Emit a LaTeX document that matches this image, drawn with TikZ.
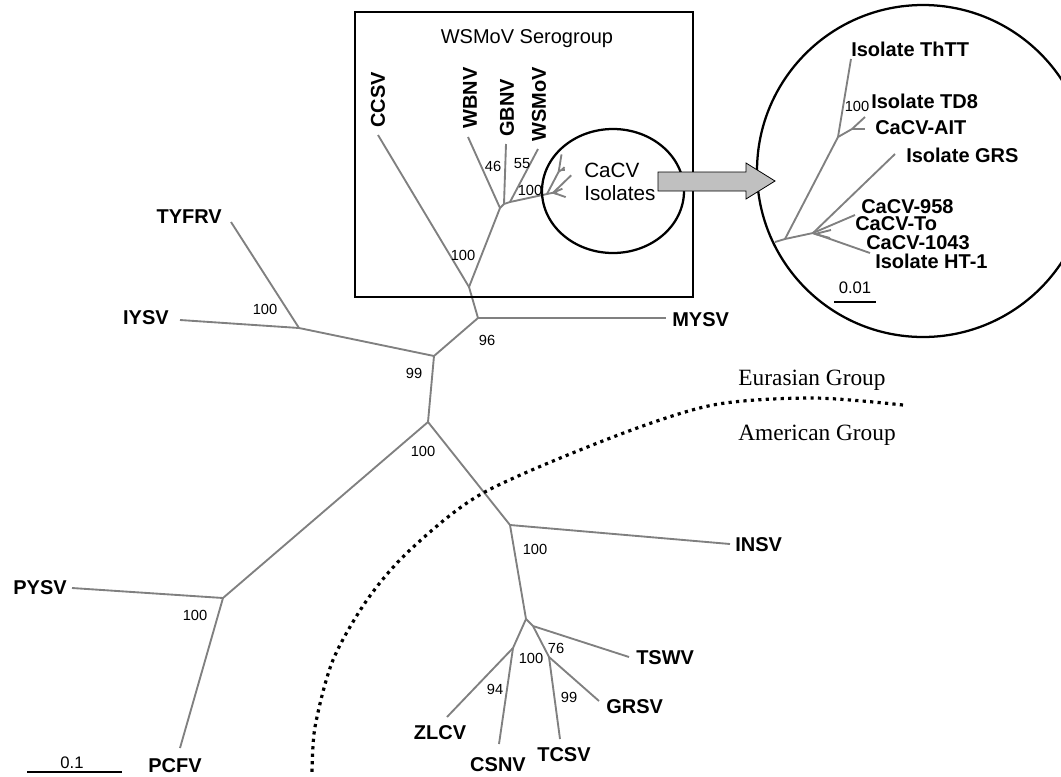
\documentclass[tikz,border=0pt]{standalone}
\usepackage{fontspec}
\setmainfont{Liberation Sans}
\newfontfamily\grpfont{Liberation Serif}
\usetikzlibrary{shapes.geometric}
\definecolor{treegray}{RGB}{128,128,128}
\definecolor{arrowgray}{RGB}{192,192,192}
\tikzset{
  branch/.style={draw=treegray, line width=1.4pt},
  taxon/.style={inner sep=0pt, font=\fontsize{15}{18}\selectfont\bfseries},
  boot/.style={inner sep=0pt, font=\fontsize{11}{13}\selectfont},
  scalelbl/.style={inner sep=0pt, font=\fontsize{12.5}{14}\selectfont},
  grouplbl/.style={inner sep=0pt, font=\fontsize{17.5}{20}\grpfont\selectfont},
  frame/.style={draw, line width=1.7pt, inner sep=0pt},
}
\begin{document}
\begin{tikzpicture}[x=0.75pt, y=-0.75pt]
\useasboundingbox (0,0) rectangle (1061,776);

% main tree
\coordinate (nroot) at (428,422);
\coordinate (n99) at (434,356);
\coordinate (n96) at (478,318);
\coordinate (nbox) at (469,287);
\coordinate (lmysv) at (666,318);
\coordinate (ntyf) at (299,328);
\coordinate (ltyfrv) at (231,222);
\coordinate (liysv) at (180,320);
\coordinate (nw1) at (500,208);
\coordinate (nw2) at (504,204);
\coordinate (nw3) at (510,202);
\coordinate (lccsv) at (378,135);
\coordinate (lwbnv) at (468,137);
\coordinate (lgbnv) at (506,144);
\coordinate (lwsmov) at (538,149);
\coordinate (np) at (223,598);
\coordinate (lpysv) at (72,588);
\coordinate (lpcfv) at (180,748);
\coordinate (ni) at (510,525);
\coordinate (linsv) at (730,544);
\coordinate (nt) at (526,619);
\coordinate (nzc) at (513,648);
\coordinate (lzlcv) at (447,717);
\coordinate (lcsnv) at (499,744);
\coordinate (n76) at (533,626);
\coordinate (ltswv) at (629,657);
\coordinate (ngt) at (549,657);
\coordinate (ltcsv) at (560,739);
\coordinate (lgrsv) at (599,701);

\draw[branch] (n99) -- (ntyf);
\draw[branch] (ntyf) -- (ltyfrv);
\draw[branch] (ntyf) -- (liysv);
\draw[branch] (n99) -- (n96);
\draw[branch] (n96) -- (lmysv);
\draw[branch] (n96) -- (nbox);
\draw[branch] (nbox) -- (lccsv);
\draw[branch] (nbox) -- (nw1);
\draw[branch] (nw1) -- (lwbnv);
\draw[branch] (nw1) -- (nw2);
\draw[branch] (nw2) -- (lgbnv);
\draw[branch] (nw2) -- (nw3);
\draw[branch] (nw3) -- (lwsmov);
\draw[branch] (n99) -- (nroot);
\draw[branch] (nroot) -- (np);
\draw[branch] (np) -- (lpysv);
\draw[branch] (np) -- (lpcfv);
\draw[branch] (nroot) -- (ni);
\draw[branch] (ni) -- (linsv);
\draw[branch] (ni) -- (nt);
\draw[branch] (nt) -- (nzc);
\draw[branch] (nzc) -- (lzlcv);
\draw[branch] (nzc) -- (lcsnv);
\draw[branch] (nt) -- (n76);
\draw[branch] (n76) -- (ltswv);
\draw[branch] (n76) -- (ngt);
\draw[branch] (ngt) -- (ltcsv);
\draw[branch] (ngt) -- (lgrsv);

% small CaCV tree
\coordinate (sr1) at (547,194);
\coordinate (sr2) at (558.7,171.6);
\coordinate (sr3) at (561.7,169.8);
\coordinate (sl1) at (561.5,154.4);
\coordinate (sl2) at (564.6,167.2);
\coordinate (sl3) at (564.6,169.8);
\coordinate (sr4) at (553.2,192.7);
\coordinate (sl4) at (571.2,175.3);
\coordinate (sl5) at (562.4,188.7);
\coordinate (sr5) at (553.6,192.9);
\coordinate (sl6) at (557.1,192);
\coordinate (sl7) at (556.9,193.8);
\coordinate (sl8) at (565.7,197.1);

\draw[branch] (nw3) -- (sr1);
\draw[branch] (sr1) -- (sr2);
\draw[branch] (sr2) -- (sl1);
\draw[branch] (sr2) -- (sr3);
\draw[branch] (sr3) -- (sl2);
\draw[branch] (sr3) -- (sl3);
\draw[branch] (sr1) -- (sr4);
\draw[branch] (sr4) -- (sl4);
\draw[branch] (sr4) -- (sl5);
\draw[branch] (sr4) -- (sr5);
\draw[branch] (sr5) -- (sl6);
\draw[branch] (sr5) -- (sl7);
\draw[branch] (sr4) -- (sl8);

% enlarged CaCV tree
\coordinate (r0) at (775,242);
\coordinate (r1) at (785,239);
\coordinate (r2) at (838,137);
\coordinate (r3) at (852,129);
\coordinate (l1) at (851,59);
\coordinate (l2) at (865,117);
\coordinate (l3) at (865,129);
\coordinate (r4) at (813,233);
\coordinate (l4) at (895,154);
\coordinate (l5) at (855,215);
\coordinate (r5) at (815,234);
\coordinate (l6) at (831,230);
\coordinate (l7) at (830,238);
\coordinate (l8) at (870,253);

\draw[branch] (r0) -- (r1);
\draw[branch] (r1) -- (r2);
\draw[branch] (r2) -- (l1);
\draw[branch] (r2) -- (r3);
\draw[branch] (r3) -- (l2);
\draw[branch] (r3) -- (l3);
\draw[branch] (r1) -- (r4);
\draw[branch] (r4) -- (l4);
\draw[branch] (r4) -- (l5);
\draw[branch] (r4) -- (r5);
\draw[branch] (r5) -- (l6);
\draw[branch] (r5) -- (l7);
\draw[branch] (r4) -- (l8);

% frames
\node[frame, minimum width=253.5pt, minimum height=213.75pt] (serobox) at (524,154.5) {};
\node[frame, ellipse, minimum width=106.5pt, minimum height=93pt] (cacvview) at (613,191) {};
\node[frame, circle, minimum size=249pt] (zoomview) at (923,171) {};
\draw[fill=arrowgray, line width=0.6pt] (658,172) -- (746,172) -- (746,163) -- (775,181)
  -- (746,199) -- (746,191) -- (658,191) -- cycle;

% group boundary
\draw[line width=2.4pt, dash pattern=on 2.4pt off 3.2pt] plot[smooth] coordinates
  {(903,405) (813,398) (713,405) (613,437) (483,493) (410,550) (367,600) (333,660) (315,727) (312,776)};
\node[grouplbl, anchor=base] (eurasian) at (812,385) {Eurasian Group};
\node[grouplbl, anchor=base] (american) at (817,440) {American Group};

% taxa
\node[taxon, anchor=east] (tyfrv) at (222,217) {TYFRV};
\node[taxon, anchor=east] (iysv) at (169,318) {IYSV};
\node[taxon, anchor=east] (pysv) at (67,588) {PYSV};
\node[taxon] (pcfv) at (175,766) {PCFV};
\node[taxon, anchor=west] (mysv) at (672,320) {MYSV};
\node[taxon, anchor=west] (insv) at (735,545) {INSV};
\node[taxon, anchor=west] (tswv) at (636,658) {TSWV};
\node[taxon, anchor=west] (grsv) at (606,707) {GRSV};
\node[taxon] (tcsv) at (564,755) {TCSV};
\node[taxon] (csnv) at (498,765) {CSNV};
\node[taxon] (zlcv) at (440,733) {ZLCV};
\node[taxon, rotate=90] (ccsv) at (378,100) {CCSV};
\node[taxon, rotate=90] (wbnv) at (470,98) {WBNV};
\node[taxon, rotate=90] (gbnv) at (507,108) {GBNV};
\node[taxon, rotate=90] (wsmov) at (539,104) {WSMoV};

\node[inner sep=0pt, anchor=base, font=\fontsize{15}{18}\selectfont] (serotitle) at (527,43) {WSMoV Serogroup};
\node[inner sep=0pt, anchor=north west, align=left, font=\fontsize{15.5}{17}\selectfont] (cacvtitle) at (584,163) {CaCV\\Isolates};

\node[taxon, anchor=west] (ththt) at (851,49) {Isolate ThTT};
\node[taxon, anchor=west] (td8) at (871,101) {Isolate TD8};
\node[taxon, anchor=west] (ait) at (875,128) {CaCV-AIT};
\node[taxon, anchor=west] (grs) at (906,155) {Isolate GRS};
\node[taxon, anchor=west] (c958) at (861,207) {CaCV-958};
\node[taxon, anchor=west] (cto) at (855,224) {CaCV-To};
\node[taxon, anchor=west] (c1043) at (866,243) {CaCV-1043};
\node[taxon, anchor=west] (ht1) at (875,261) {Isolate HT-1};

% bootstrap values
\node[boot] (b1) at (265,309) {100};
\node[boot] (b2) at (487,340) {96};
\node[boot] (b3) at (414,373) {99};
\node[boot] (b4) at (423,451) {100};
\node[boot] (b5) at (535,549) {100};
\node[boot] (b6) at (195,615) {100};
\node[boot] (b7) at (531,658) {100};
\node[boot] (b8) at (556,648) {76};
\node[boot] (b9) at (495,689) {94};
\node[boot] (b10) at (569,697) {99};
\node[boot] (b11) at (493,166) {46};
\node[boot] (b12) at (522,164) {55};
\node[boot] (b13) at (530,190) {100};
\node[boot] (b14) at (463,255) {100};
\node[boot] (b15) at (857,106) {100};

% scale bars
\coordinate (sa) at (27,772);
\coordinate (sb) at (122,772);
\draw[line width=0.8pt] (sa) -- (sb);
\node[scalelbl] (scalemain) at (72,763) {0.1};
\coordinate (sc) at (834,302);
\coordinate (sd) at (876,302);
\draw[line width=0.8pt] (sc) -- (sd);
\node[scalelbl] (scalezoom) at (855,288) {0.01};

\end{tikzpicture}
\end{document}
